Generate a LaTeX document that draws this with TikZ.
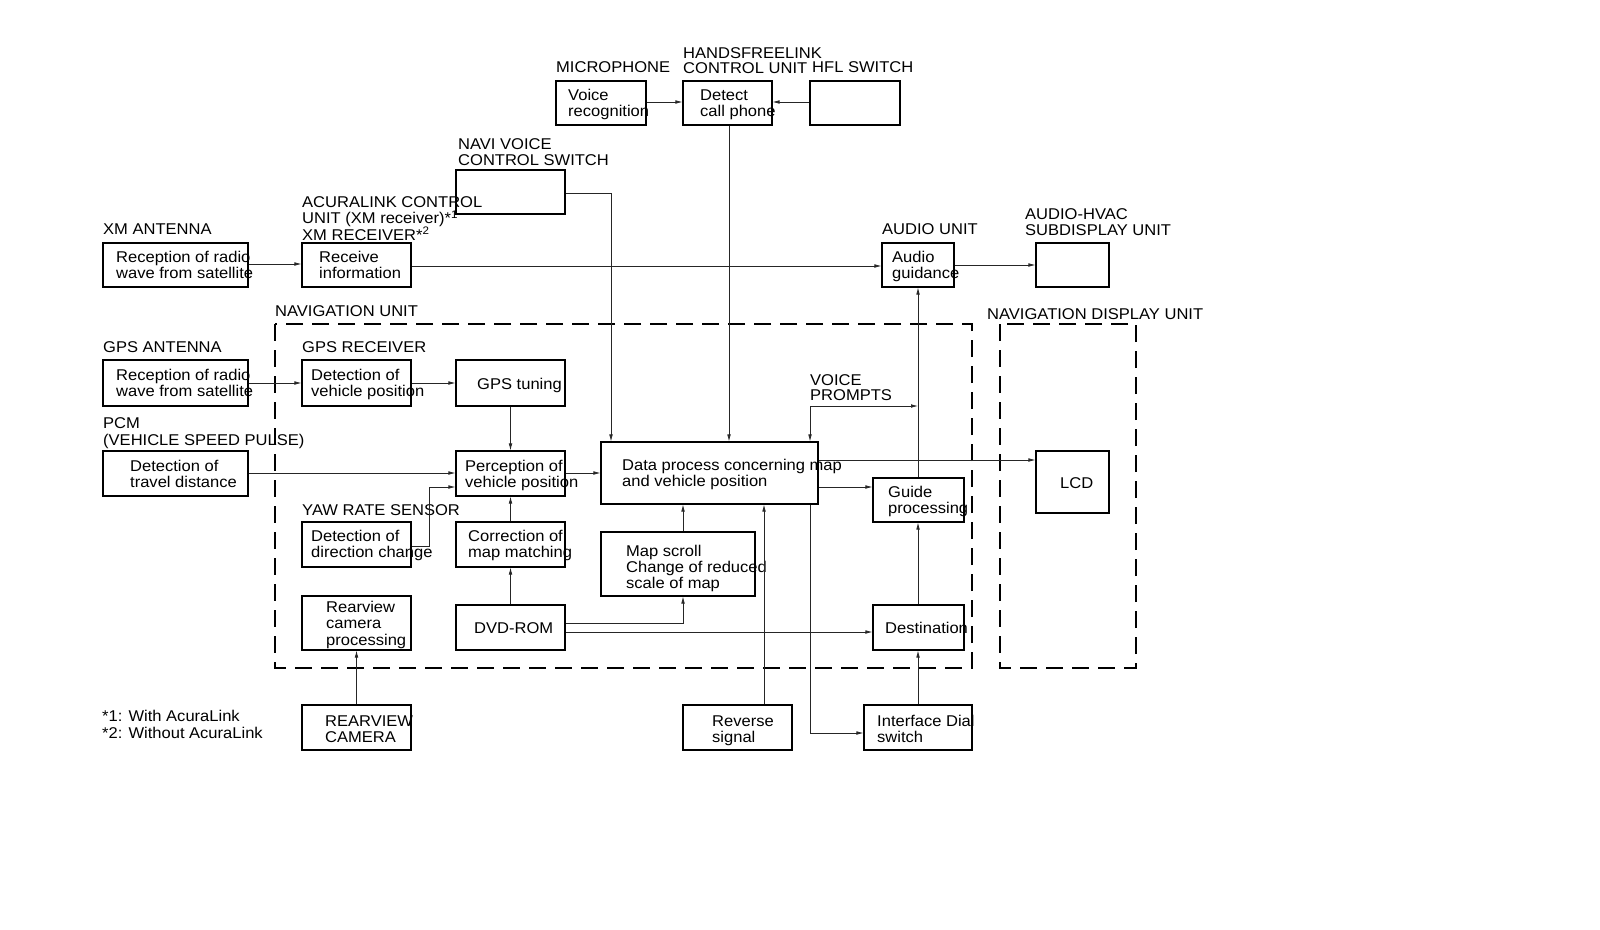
\documentclass[tikz,border=0pt]{standalone}
\usepackage{fontspec}
\setmainfont{Liberation Sans}[FakeStretch=1.06]
\usetikzlibrary{arrows.meta,calc}
\newcommand\twol[3][16pt]{\vtop{\baselineskip=#1\hbox{#2}\hbox{#3}}}
\newcommand\threel[4][16.5pt]{\vtop{\baselineskip=#1\hbox{#2}\hbox{#3}\hbox{#4}}}
\newcommand\bx[5]{\node[box, minimum width={(#4-#2)*1pt}, minimum height={(#5-#3)*1pt}] (#1) at ({(#2+#4)/2},{(#3+#5)/2}) {};}
\begin{document}
\begin{tikzpicture}[x=1pt,y=-1pt,
  box/.style={draw=black, line width=1.1pt, inner sep=0pt, rectangle},
  txt/.style={inner sep=0pt, anchor=base west, font=\fontsize{15.6}{16}\selectfont, text=black},
  conn/.style={line width=0.7pt, draw=black!85},
  arr/.style={conn, -{Latex[length=7pt,width=3.6pt]}},
  arrboth/.style={conn, {Latex[length=7pt,width=3.6pt]}-{Latex[length=7pt,width=3.6pt]}},
  dashbox/.style={draw=black, line width=1.4pt, dash pattern=on 17pt off 9pt}]
\useasboundingbox[fill=white] (0,0) rectangle (1600,929);

% helper coordinates
\coordinate (Y102) at (0,102);
\coordinate (Y193) at (0,193);
\coordinate (Y264) at (0,264);
\coordinate (Y265) at (0,265);
\coordinate (Y266) at (0,266);
\coordinate (Y406) at (0,406);
\coordinate (Y460) at (0,460);
\coordinate (Y473) at (0,473);
\coordinate (Y487) at (0,487);
\coordinate (Y546) at (0,546);
\coordinate (Y623) at (0,623);
\coordinate (Y632) at (0,632);
\coordinate (Y733) at (0,733);
\coordinate (X429) at (429,0);
\coordinate (X611) at (611,0);
\coordinate (X683) at (683,0);
\coordinate (X729) at (729,0);
\coordinate (X764) at (764,0);
\coordinate (X810) at (810,0);
\coordinate (X918) at (918,0);

% dashed units
\draw[dashbox] (275,324) rectangle (972,668);
\draw[dashbox] (1000,324) rectangle (1136,668);

% boxes
\bx{voice}{556}{81}{646}{125}
\bx{detect}{683}{81}{772}{125}
\bx{hfl}{810}{81}{900}{125}
\bx{navi}{456}{170}{565}{214}
\bx{xmrec}{103}{243}{248}{287}
\bx{recv}{302}{243}{411}{287}
\bx{audio}{882}{243}{954}{287}
\bx{subd}{1036}{243}{1109}{287}
\bx{gpsant}{103}{360}{248}{406}
\bx{gpsdet}{302}{360}{411}{406}
\bx{gpstun}{456}{360}{565}{406}
\bx{travel}{103}{451}{248}{496}
\bx{percep}{456}{451}{565}{496}
\bx{data}{601}{442}{818}{504}
\bx{guide}{873}{478}{964}{522}
\bx{lcd}{1036}{451}{1109}{513}
\bx{dirch}{302}{522}{411}{567}
\bx{corr}{456}{522}{565}{567}
\bx{mapsc}{601}{532}{755}{596}
\bx{rvproc}{302}{596}{411}{650}
\bx{dvd}{456}{605}{565}{650}
\bx{dest}{873}{605}{964}{650}
\bx{rvcam}{302}{705}{411}{750}
\bx{rev}{683}{705}{792}{750}
\bx{iface}{864}{705}{972}{750}

% texts
\node[txt] (tmic) at (556,72) {MICROPHONE};
\node[txt] (thfc) at (683,58) {\twol[15pt]{HANDSFREELINK}{CONTROL UNIT}};
\node[txt] (thfl) at (812,72) {HFL SWITCH};
\node[txt] (tvoice) at (568,100) {\twol{Voice}{recognition}};
\node[txt] (tdetect) at (700,100) {\twol{Detect}{call phone}};
\node[txt] (tnavi) at (458,149) {\twol{NAVI VOICE}{CONTROL SWITCH}};
\node[txt] (tacura) at (302,207) {\threel{ACURALINK CONTROL}{UNIT (XM receiver)*\textsuperscript{1}}{XM RECEIVER*\textsuperscript{2}}};
\node[txt] (txmant) at (103,234) {XM ANTENNA};
\node[txt] (txmrec) at (116,262) {\twol{Reception of radio}{wave from satellite}};
\node[txt] (trecv) at (319,262) {\twol{Receive}{information}};
\node[txt] (taudu) at (882,234) {AUDIO UNIT};
\node[txt] (taud) at (892,262) {\twol{Audio}{guidance}};
\node[txt] (tsubd) at (1025,219) {\twol{AUDIO-HVAC}{SUBDISPLAY UNIT}};
\node[txt] (tnavu) at (275,316) {NAVIGATION UNIT};
\node[txt] (tnavd) at (987,319) {NAVIGATION DISPLAY UNIT};
\node[txt] (tgpsa) at (103,352) {GPS ANTENNA};
\node[txt] (tgpsr) at (302,352) {GPS RECEIVER};
\node[txt] (tgpsant) at (116,380) {\twol{Reception of radio}{wave from satellite}};
\node[txt] (tgpsdet) at (311,380) {\twol{Detection of}{vehicle position}};
\node[txt] (tgpstun) at (477,389) {GPS tuning};
\node[txt] (tpcm) at (103,428) {\twol[17pt]{PCM}{(VEHICLE SPEED PULSE)}};
\node[txt] (ttravel) at (130,471) {\twol{Detection of}{travel distance}};
\node[txt] (tpercep) at (465,471) {\twol{Perception of}{vehicle position}};
\node[txt] (tdata) at (622,470) {\twol{Data process concerning map}{and vehicle position}};
\node[txt] (tvp) at (810,385) {\twol[15.5pt]{VOICE}{PROMPTS}};
\node[txt] (tguide) at (888,497) {\twol{Guide}{processing}};
\node[txt] (tlcd) at (1060,488) {LCD};
\node[txt] (tyaw) at (302,515) {YAW RATE SENSOR};
\node[txt] (tdirch) at (311,541) {\twol{Detection of}{direction change}};
\node[txt] (tcorr) at (468,541) {\twol{Correction of}{map matching}};
\node[txt] (tmapsc) at (626,556) {\threel[16pt]{Map scroll}{Change of reduced}{scale of map}};
\node[txt] (trvproc) at (326,612) {\threel{Rearview}{camera}{processing}};
\node[txt] (tdvd) at (474,633) {DVD-ROM};
\node[txt] (tdest) at (885,633) {Destination};
\node[txt] (tfoot) at (102,721) {\twol[17pt]{*1: With AcuraLink}{*2: Without AcuraLink}};
\node[txt] (trvcam) at (325,726) {\twol{REARVIEW}{CAMERA}};
\node[txt] (trev) at (712,726) {\twol{Reverse}{signal}};
\node[txt] (tiface) at (877,726) {\twol{Interface Dial}{switch}};

% connectors
\draw[arr] (voice.east|-Y102) -- (detect.west|-Y102);
\draw[arr] (hfl.west|-Y102) -- (detect.east|-Y102);
\draw[arr] (X729|-detect.south) -- (X729|-data.north);
\draw[arr] (navi.east|-Y193) -| (X611|-data.north);
\draw[arr] (xmrec.east|-Y264) -- (recv.west|-Y264);
\draw[arr] (recv.east|-Y266) -- (audio.west|-Y266);
\draw[arr] (audio.east|-Y265) -- (subd.west|-Y265);
\draw[arr] (gpsant) -- (gpsdet);
\draw[arr] (gpsdet) -- (gpstun);
\draw[arr] (gpstun) -- (percep);
\draw[arr] (travel.east|-Y473) -- (percep.west|-Y473);
\draw[arr] (dirch.east|-Y546) -| (X429|-Y487) -- (percep.west|-Y487);
\draw[arr] (corr) -- (percep);
\draw[arr] (dvd) -- (corr);
\draw[arr] (percep.east|-Y473) -- (data.west|-Y473);
\draw[arr] (X683|-mapsc.north) -- (X683|-data.south);
\draw[arr] (dvd.east|-Y623) -| (X683|-mapsc.south);
\draw[arr] (dvd.east|-Y632) -- (dest.west|-Y632);
\draw[arr] (X764|-rev.north) -- (X764|-data.south);
\draw[arr] (X810|-data.south) |- (iface.west|-Y733);
\draw[arr] (X918|-iface.north) -- (X918|-dest.south);
\draw[arr] (X918|-dest.north) -- (X918|-guide.south);
\draw[arr] (X918|-guide.north) -- (X918|-audio.south);
\draw[arrboth] (X810|-data.north) |- (X918|-Y406);
\draw[arr] (data.east|-Y487) -- (guide.west|-Y487);
\draw[arr] (data.east|-Y460) -- (lcd.west|-Y460);
\draw[arr] (rvcam) -- (rvproc);
\end{tikzpicture}
\end{document}
